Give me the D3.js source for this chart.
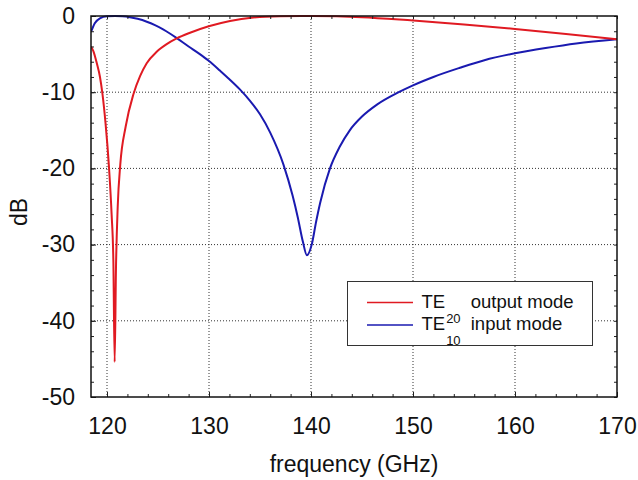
<!DOCTYPE html>
<html>
<head>
<meta charset="utf-8">
<script src="https://cdn.jsdelivr.net/npm/d3@7"></script>
<style>
  body { margin: 0; background: #fff; }
  text { font-family: "Liberation Sans", Arial, sans-serif; fill: #111; }
</style>
</head>
<body>
<svg id="chart" width="638" height="480"></svg>
<script>
// TE20 output mode (red) - frequency in GHz, level in dB
var te20Freq = [118.43, 118.66, 119.0, 119.31, 119.55, 119.85, 120.2, 120.45, 120.62, 120.75,
    120.88, 121.05, 121.3, 121.83, 122.58, 123.24, 123.89, 124.87, 125.85, 126.83,
    128.14, 129.97, 132.06, 134.34, 136.96, 140, 145, 150, 155, 160, 165, 170];
var te20dB = [-4.0, -4.6, -6.2, -8.0, -10.2, -14.0, -20.0, -26.0, -32.0, -45.4,
    -33.0, -25.0, -19.5, -14.5, -10.3, -7.9, -6.2, -4.7, -3.7, -2.95,
    -2.2, -1.35, -0.65, -0.2, -0.03, 0, -0.15, -0.6, -1.1, -1.7, -2.35, -3.06];

// TE10 input mode (blue)
var te10Freq = [118.43, 118.8, 119.3, 120.0, 120.8, 121.5, 122.25, 123.0, 123.9, 124.7,
    125.5, 126.2, 126.83, 128.0, 129.1, 130.0, 131.1, 132.0, 133.0, 134.0,
    135.0, 136.0, 137.3, 138.2, 138.7, 139.2, 139.6, 140.07, 140.5, 140.9,
    141.86, 142.8, 143.8, 145.0, 146.5, 148.6, 150.0, 152.0, 154.6, 157.0,
    160.0, 163.0, 166.0, 170.0];
var te10dB = [-2.1, -0.95, -0.3, -0.03, 0, -0.03, -0.15, -0.37, -0.75, -1.2,
    -1.75, -2.33, -2.9, -4.0, -5.0, -5.9, -7.2, -8.3, -9.6, -11.1,
    -12.9, -15.3, -19.5, -23.6, -26.4, -29.6, -31.4, -30.0, -27.0, -24.5,
    -20.0, -17.2, -15.0, -13.2, -11.6, -10.0, -9.1, -8.0, -6.8, -5.8,
    -4.9, -4.2, -3.6, -3.06];

var xTicks = [120, 130, 140, 150, 160, 170];
var yTicks = [0, -10, -20, -30, -40, -50];

var pLeft = 91, pRight = 617, pTop = 16, pBottom = 397;
var svg = d3.select("#chart");

var x = d3.scaleLinear().domain([118.43, 170]).range([pLeft, pRight]);
var y = d3.scaleLinear().domain([-50, 0]).range([pBottom, pTop]);

svg.append("rect").attr("width", 638).attr("height", 480).attr("fill", "#fff");

// dotted grid
svg.append("g").selectAll("line")
    .data(xTicks.filter(function(d){ return d < 170; }))
    .enter().append("line")
    .attr("x1", function(d){ return x(d); }).attr("x2", function(d){ return x(d); })
    .attr("y1", pTop).attr("y2", pBottom)
    .attr("stroke", "#333").attr("stroke-width", 1).attr("stroke-dasharray", "1,2");

svg.append("g").selectAll("line")
    .data(yTicks.filter(function(d){ return d > -50 && d < 0; }))
    .enter().append("line")
    .attr("x1", pLeft).attr("x2", pRight)
    .attr("y1", function(d){ return y(d); }).attr("y2", function(d){ return y(d); })
    .attr("stroke", "#333").attr("stroke-width", 1).attr("stroke-dasharray", "1,2");

// curves
svg.append("clipPath").attr("id", "clip").append("rect")
    .attr("x", pLeft).attr("y", pTop - 2).attr("width", pRight - pLeft).attr("height", pBottom - pTop + 2);

var line = d3.line()
    .x(function(d){ return x(d[0]); })
    .y(function(d){ return y(d[1]); })
    .curve(d3.curveMonotoneX);

svg.append("path")
    .datum(d3.zip(te10Freq, te10dB))
    .attr("clip-path", "url(#clip)")
    .attr("fill", "none").attr("stroke", "#1a1ab0").attr("stroke-width", 2)
    .attr("d", line);

svg.append("path")
    .datum(d3.zip(te20Freq, te20dB))
    .attr("clip-path", "url(#clip)")
    .attr("fill", "none").attr("stroke", "#e01a22").attr("stroke-width", 2)
    .attr("d", line);

// axes with inward ticks
var minorX = d3.range(120, 170.1, 2);
var minorY = d3.range(-50, 0.1, 2);
var plain = function(d){ return String(d); };

function styleAxis(g) {
    g.select(".domain").remove();
    g.selectAll("line").attr("stroke", "#222");
}

svg.append("g").attr("transform", "translate(0," + pBottom + ")")
    .call(d3.axisBottom(x).tickValues(xTicks).tickFormat(plain).tickSizeInner(-5).tickSizeOuter(0).tickPadding(21))
    .call(styleAxis)
    .selectAll("text").attr("font-size", 23).attr("font-family", "Liberation Sans, Arial, sans-serif").attr("fill", "#111");
svg.append("g").attr("transform", "translate(0," + pBottom + ")")
    .call(d3.axisBottom(x).tickValues(minorX).tickSizeInner(-3).tickSizeOuter(0).tickFormat(""))
    .call(styleAxis);
svg.append("g").attr("transform", "translate(0," + pTop + ")")
    .call(d3.axisTop(x).tickValues(minorX).tickSizeInner(-3).tickSizeOuter(0).tickFormat(""))
    .call(styleAxis);

svg.append("g").attr("transform", "translate(" + pLeft + ",0)")
    .call(d3.axisLeft(y).tickValues(yTicks).tickFormat(plain).tickSizeInner(-5).tickSizeOuter(0).tickPadding(16))
    .call(styleAxis)
    .selectAll("text").attr("font-size", 23).attr("font-family", "Liberation Sans, Arial, sans-serif").attr("fill", "#111");
svg.append("g").attr("transform", "translate(" + pLeft + ",0)")
    .call(d3.axisLeft(y).tickValues(minorY).tickSizeInner(-3).tickSizeOuter(0).tickFormat(""))
    .call(styleAxis);
svg.append("g").attr("transform", "translate(" + pRight + ",0)")
    .call(d3.axisRight(y).tickValues(minorY).tickSizeInner(-3).tickSizeOuter(0).tickFormat(""))
    .call(styleAxis);

// frame
svg.append("rect")
    .attr("x", pLeft).attr("y", pTop).attr("width", pRight - pLeft).attr("height", pBottom - pTop)
    .attr("fill", "none").attr("stroke", "#111").attr("stroke-width", 1.5);

// axis titles
svg.append("text")
    .attr("x", (pLeft + pRight) / 2).attr("y", 472)
    .attr("text-anchor", "middle").attr("font-size", 23)
    .text("frequency (GHz)");

svg.append("text")
    .attr("transform", "translate(27," + 212 + ") rotate(-90)")
    .attr("text-anchor", "middle").attr("font-size", 23)
    .text("dB");

// legend
var legendItems = [
    {sub: "20", label: " output mode", color: "#e01a22"},
    {sub: "10", label: " input mode", color: "#1a1ab0"}
];
var legend = svg.append("g");
legend.append("rect")
    .attr("x", 347.5).attr("y", 281.5).attr("width", 245).attr("height", 64)
    .attr("fill", "#fff").attr("stroke", "#333").attr("stroke-width", 1);

var rows = legend.selectAll("g.item").data(legendItems).enter().append("g")
    .attr("class", "item")
    .attr("transform", function(d, i){ return "translate(0," + (i * 22.5) + ")"; });

rows.append("line")
    .attr("x1", 367).attr("x2", 413).attr("y1", 302.5).attr("y2", 302.5)
    .attr("stroke", function(d){ return d.color; }).attr("stroke-width", 1.5);

var labels = rows.append("text")
    .attr("x", 421.5).attr("y", 307.5).attr("font-size", 18.5);
labels.append("tspan").text("TE");
labels.append("tspan").attr("font-size", 13).attr("dy", 15).attr("dx", 1).text(function(d){ return d.sub; });
labels.append("tspan").attr("dy", -15).attr("dx", 5).text(function(d){ return d.label; });
</script>
</body>
</html>
